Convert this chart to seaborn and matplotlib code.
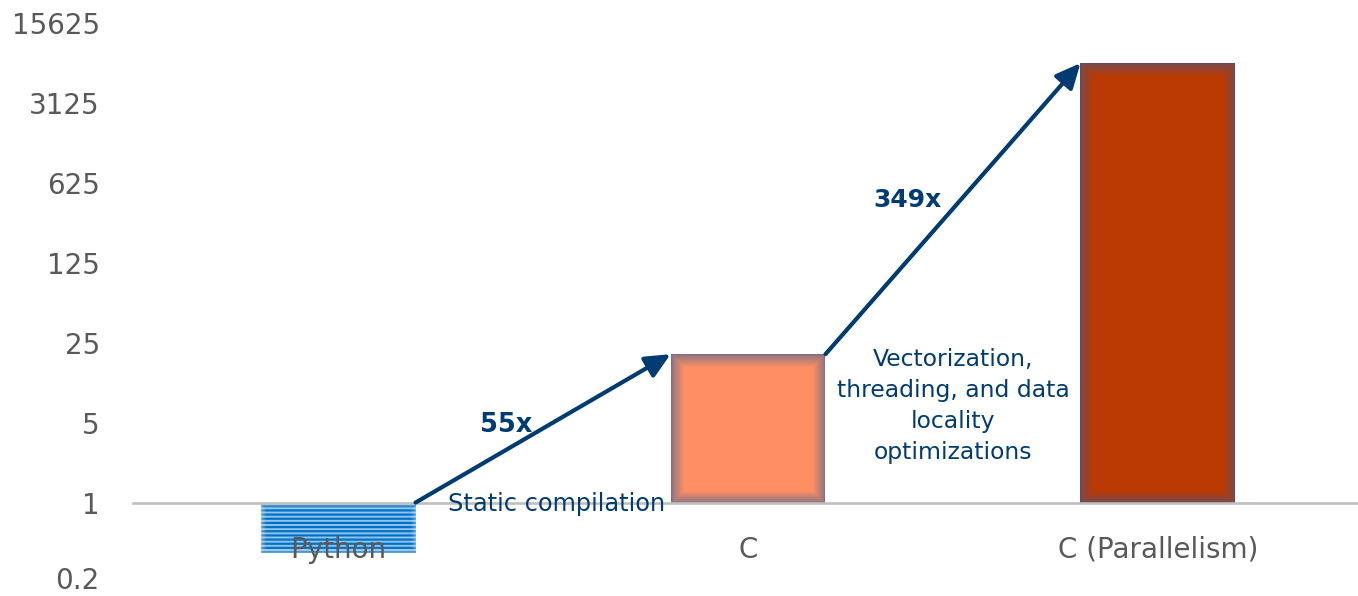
import numpy as np
import pandas as pd
import matplotlib
matplotlib.use("Agg")
import matplotlib.pyplot as plt
import matplotlib.transforms as mtransforms
import seaborn as sns
from matplotlib.patches import Rectangle
from matplotlib.ticker import FixedLocator, FixedFormatter, NullLocator

# Relative performance of each implementation (log scale, base 5)
categories = ["Python", "C", "C (Parallelism)"]
python_perf = 0.36
speedups = [55, 349]
speedup_labels = ["55x", "349x"]
step_notes = ["Static compilation",
              "Vectorization,\nthreading, and data\nlocality\noptimizations"]
ytick_values = [0.2, 1, 5, 25, 125, 625, 3125, 15625]
ytick_labels = ["0.2", "1", "5", "25", "125", "625", "3125", "15625"]

perf = [python_perf]
for s in speedups:
    perf.append(perf[-1] * s)

df = pd.DataFrame({"impl": categories, "perf": perf})

sns.set_style("white")
plt.rcParams["font.family"] = ["DejaVu Sans"]
plt.rcParams["hatch.linewidth"] = 1.6

NAVY = "#003c71"
GREY_TXT = "#595959"
BAR_W = 0.378

fig = plt.figure(figsize=(13.58, 5.96), dpi=100)
ax = fig.add_axes([0.098, 0.0225, 0.902, 0.9396])

bar_colors = ["#8ec4ee", "#ff8f62", "#bb3a03"]
sns.barplot(data=df, x="impl", y="perf", hue="impl", palette=bar_colors,
            saturation=1, width=BAR_W, legend=False, ax=ax)

bars = list(ax.patches)
# bars grow from the baseline at 1 (up for speedups, down for slowdowns)
for p, v in zip(bars, perf):
    p.set_y(1)
    p.set_height(v - 1)
    p.set_linewidth(0)

# striped fill for the Python bar
bars[0].set_hatch("----")
bars[0].set_edgecolor("#0071c5")
bars[0].set_linewidth(0)

# soft inner glow along bar edges, densest right at the edge
glow_colors = ["#ffffff", "#5a6d9e", "#5a5a86"]
glow_alpha = [0.03, 0.055, 0.055]
glow_width = [8, 18, 18]
for p, gc, ga, gw in zip(bars, glow_colors, glow_alpha, glow_width):
    for k in np.linspace(1.0, 0.05, 26):
        r = Rectangle(p.get_xy(), p.get_width(), p.get_height(), fill=False,
                      edgecolor=gc, lw=gw * k ** 2.4, alpha=ga, zorder=1.1)
        ax.add_patch(r)
        r.set_clip_path(p)

ax.set_yscale("log", base=5)
ax.set_ylim(0.2, 15625)
ax.set_xlim(-0.5, 2.488)

# arrows between bar tops
for i in range(len(speedups)):
    start = (i + BAR_W / 2, max(perf[i], 1))
    end = (i + 1 - BAR_W / 2, perf[i + 1])
    ax.annotate("", xy=end, xytext=start,
                arrowprops=dict(arrowstyle="-|>,head_length=0.75,head_width=0.35",
                                color=NAVY, lw=3, shrinkA=0, shrinkB=0,
                                mutation_scale=20), zorder=4)

ax.text(0.41, 4.8, speedup_labels[0], color=NAVY, fontsize=18.5,
        fontweight="bold", ha="center", va="center")
ax.text(1.39, 444, speedup_labels[1], color=NAVY, fontsize=18,
        fontweight="bold", ha="center", va="center")
ax.text(0.532, 0.98, step_notes[0], color=NAVY, fontsize=17.3,
        ha="center", va="center", zorder=5)
ax.text(1.5, 7.0, step_notes[1], color=NAVY, fontsize=16.9,
        ha="center", va="center", linespacing=1.45)

ax.yaxis.set_major_locator(FixedLocator(ytick_values))
ax.yaxis.set_major_formatter(FixedFormatter(ytick_labels))
ax.yaxis.set_minor_locator(NullLocator())
ax.tick_params(axis="y", length=0, pad=24, labelsize=20, labelcolor=GREY_TXT)
ax.tick_params(axis="x", length=0, pad=24, labelsize=20, labelcolor=GREY_TXT)
ax.set_xlabel("")
ax.set_ylabel("")

# keep the lowest tick label clear of the figure's bottom edge
low_lab = ax.yaxis.get_major_ticks()[0].label1
low_lab.set_transform(low_lab.get_transform() +
                      mtransforms.ScaledTranslation(0, 3 / 72, fig.dpi_scale_trans))

for side in ("top", "right", "left"):
    ax.spines[side].set_visible(False)
ax.spines["bottom"].set_position(("data", 1))
ax.spines["bottom"].set_color("#bfbfbf")
ax.spines["bottom"].set_linewidth(1.9)
ax.set_axisbelow(False)

fig.savefig("out.png", dpi=100)
